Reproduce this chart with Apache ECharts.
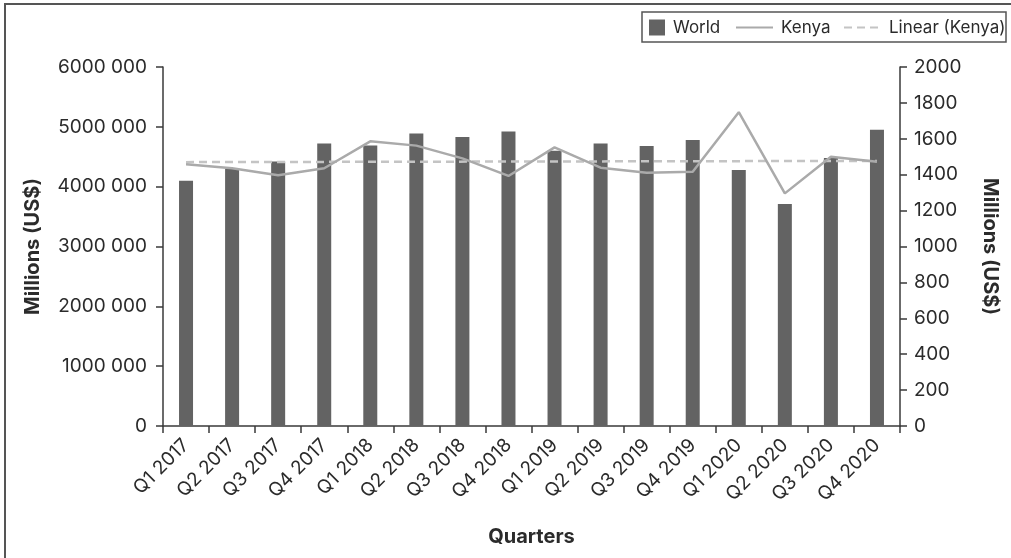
<!DOCTYPE html>
<html>
<head>
<meta charset="utf-8">
<script src="https://cdn.jsdelivr.net/npm/echarts@6/dist/echarts.min.js"></script>
<style>
  html, body { margin: 0; padding: 0; background: #fff; }
  #chart { width: 1011px; height: 558px; }
</style>
</head>
<body>
<div id="chart"></div>
<script>
// Quarterly values, 2017–2020
const quarters = ['Q1 2017', 'Q2 2017', 'Q3 2017', 'Q4 2017', 'Q1 2018', 'Q2 2018', 'Q3 2018', 'Q4 2018',
                  'Q1 2019', 'Q2 2019', 'Q3 2019', 'Q4 2019', 'Q1 2020', 'Q2 2020', 'Q3 2020', 'Q4 2020'];
// World, millions of US$ (left axis)
const world = [4100000, 4300000, 4420000, 4720000, 4690000, 4890000, 4830000, 4920000,
               4600000, 4720000, 4680000, 4780000, 4280000, 3710000, 4480000, 4950000];
// Kenya, millions of US$ (right axis)
const kenya = [1458, 1436, 1397, 1436, 1586, 1562, 1491, 1393,
               1552, 1439, 1411, 1417, 1748, 1296, 1500, 1472];
// Linear trend of Kenya: value at the first and last quarter
const kenyaTrendEnds = [1470, 1477];

const leftTicks = { min: 0, max: 6000000, interval: 1000000 };
const rightTicks = { min: 0, max: 2000, interval: 200 };

const FONT = 'Inter';
const TEXT = '#2b2b2b';
const AXIS = '#3a3a3a';

const chart = echarts.init(document.getElementById('chart'), null, { renderer: 'canvas' });

const legendText = { fontFamily: FONT, fontSize: 17, color: TEXT, padding: [0, 0, 0, 3] };

chart.setOption({
  animation: false,
  backgroundColor: '#fff',
  textStyle: { fontFamily: FONT },
  grid: { left: 163, right: 111, top: 67, bottom: 132, containLabel: false },
  graphic: [
    { type: 'rect', shape: { x: 5, y: 4, width: 1200, height: 700 },
      style: { fill: 'none', stroke: '#555', lineWidth: 2 }, silent: true, z: 100 },
    { type: 'rect', shape: { x: 642, y: 12, width: 364, height: 30 },
      style: { fill: '#fff', stroke: '#555', lineWidth: 1.5 }, silent: true, z: 0 }
  ],
  legend: [
    {
      data: [{ name: 'World', icon: 'rect' }], left: 649, top: 19, itemWidth: 16, itemHeight: 16, padding: 0,
      textStyle: legendText
    },
    {
      data: ['Kenya'], left: 735, top: 19, itemWidth: 37, itemHeight: 16, padding: 0,
      itemStyle: { opacity: 0 },
      textStyle: legendText
    },
    {
      data: ['Linear (Kenya)'], left: 843, top: 19, itemWidth: 37, itemHeight: 16, padding: 0,
      itemStyle: { opacity: 0 },
      textStyle: legendText
    }
  ],
  xAxis: {
    type: 'category',
    data: quarters,
    name: 'Quarters',
    nameLocation: 'middle',
    nameGap: 101,
    nameTextStyle: { fontFamily: FONT, fontSize: 20, fontWeight: 'bold', color: TEXT },
    axisLine: { lineStyle: { color: AXIS, width: 1.5 } },
    axisTick: { show: true, length: 7, lineStyle: { color: AXIS, width: 1.5 } },
    axisLabel: { rotate: 45, fontSize: 19, color: TEXT, margin: 16, interval: 0 }
  },
  yAxis: [
    {
      type: 'value', position: 'left',
      min: leftTicks.min, max: leftTicks.max, interval: leftTicks.interval,
      name: 'Millions (US$)', nameLocation: 'middle', nameRotate: 90, nameGap: 120,
      nameTextStyle: { fontFamily: FONT, fontSize: 20, fontWeight: 'bold', color: TEXT },
      axisLine: { show: true, lineStyle: { color: AXIS, width: 1.5 } },
      axisTick: { show: true, length: 7, lineStyle: { color: AXIS, width: 1.5 } },
      splitLine: { show: false },
      axisLabel: {
        fontSize: 19, color: TEXT, margin: 16,
        formatter: v => (v === 0 ? '0' : (v / 1000) + ' 000')
      }
    },
    {
      type: 'value', position: 'right',
      min: rightTicks.min, max: rightTicks.max, interval: rightTicks.interval,
      name: 'Millions (US$)', nameLocation: 'middle', nameRotate: -90, nameGap: 80,
      nameTextStyle: { fontFamily: FONT, fontSize: 20, fontWeight: 'bold', color: TEXT },
      axisLine: { show: true, lineStyle: { color: AXIS, width: 1.5 } },
      axisTick: { show: true, length: 7, lineStyle: { color: AXIS, width: 1.5 } },
      splitLine: { show: false },
      axisLabel: { fontSize: 19, color: TEXT, margin: 14, formatter: v => String(v) }
    }
  ],
  series: [
    {
      name: 'World', type: 'bar', yAxisIndex: 0, data: world,
      barWidth: 14, itemStyle: { color: '#636363' }, z: 2
    },
    {
      name: 'Kenya', type: 'line', yAxisIndex: 1, data: kenya,
      symbol: 'none', lineStyle: { color: '#aaaaaa', width: 2.5 },
      itemStyle: { color: '#aaaaaa' }, z: 4
    },
    {
      name: 'Linear (Kenya)', type: 'line', yAxisIndex: 1,
      data: [[0, kenyaTrendEnds[0]], [quarters.length - 1, kenyaTrendEnds[1]]],
      symbol: 'none', lineStyle: { color: '#c4c4c4', width: 2.5, type: [8, 5] },
      itemStyle: { color: '#c4c4c4' }, z: 3
    }
  ]
});
</script>
</body>
</html>
